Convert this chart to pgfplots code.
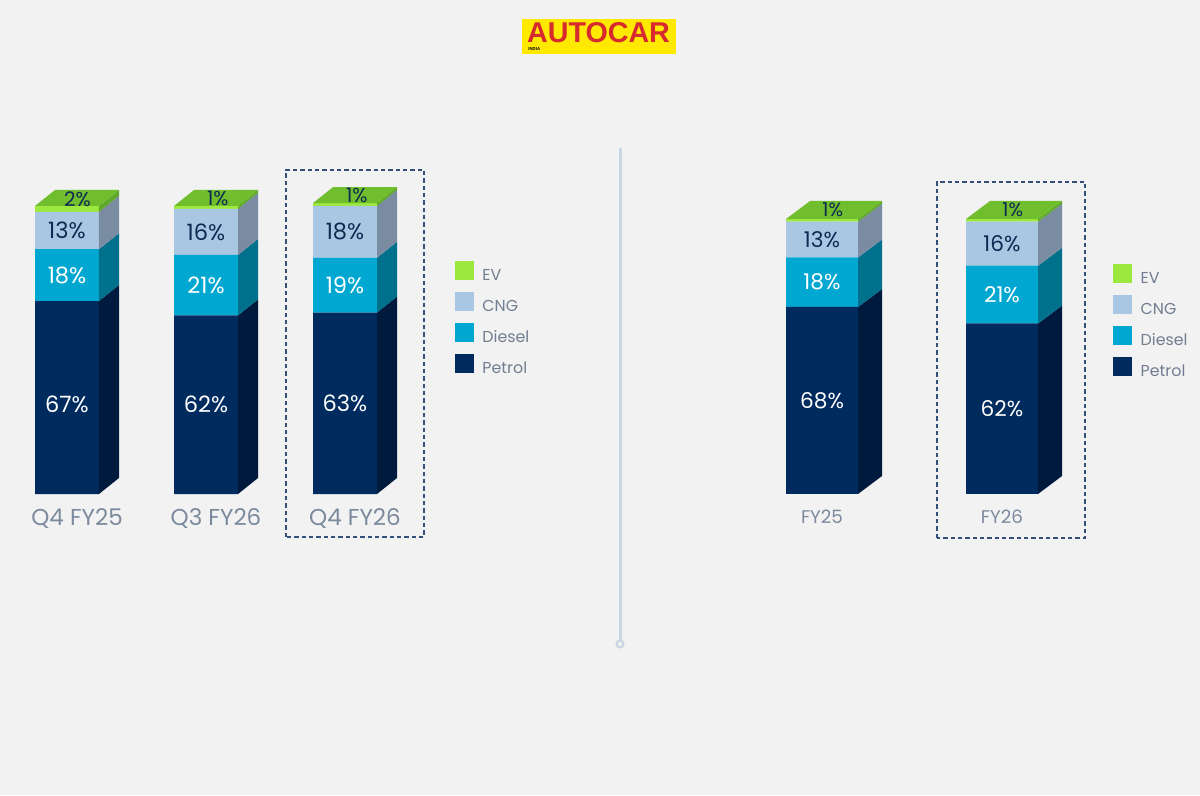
\documentclass[border=0pt]{standalone}
\usepackage{fontspec}
\setmainfont{Poppins}
\newfontfamily\logofont{Liberation Sans}
\usepackage{pgfplots}
\pgfplotsset{compat=1.18}

\definecolor{bg}{HTML}{F2F2F2}
\definecolor{petrol}{HTML}{002B5E}
\definecolor{petrolside}{HTML}{001A3D}
\definecolor{diesel}{HTML}{00A8D1}
\definecolor{dieselside}{HTML}{00718C}
\definecolor{cng}{HTML}{A9C7E3}
\definecolor{cngside}{HTML}{7A8CA1}
\definecolor{evc}{HTML}{9DE83E}
\definecolor{evside}{HTML}{5FA82A}
\definecolor{evtop}{HTML}{70BE2D}
\definecolor{navy}{HTML}{0E2A52}
\definecolor{lab}{HTML}{7C8A9E}
\definecolor{legtext}{HTML}{717D90}
\definecolor{divider}{HTML}{C9D5E2}
\definecolor{boxc}{HTML}{34507A}
\definecolor{logoy}{HTML}{FFE900}
\definecolor{logor}{HTML}{D62A2E}

% side face of one stacked segment: x centre, bottom, top, colour
\newcommand\sideface[4]{%
  \pgfmathsetmacro\xa{#1+\hw}%
  \pgfmathsetmacro\xb{#1+\hw+\dx}%
  \pgfmathsetmacro\ya{#2+\dy}%
  \pgfmathsetmacro\yb{#3+\dy}%
  \addplot[fill=#4, draw=none] coordinates {(\xa,#2) (\xb,\ya) (\xb,\yb) (\xa,#3)} --cycle;}
% top face: x centre, top value
\newcommand\topface[2]{%
  \pgfmathsetmacro\xa{#1-\hw}%
  \pgfmathsetmacro\xb{#1+\hw}%
  \pgfmathsetmacro\xc{#1+\hw+\dx}%
  \pgfmathsetmacro\xd{#1-\hw+\dx}%
  \pgfmathsetmacro\ya{#2+\dy}%
  \addplot[fill=evtop, draw=none] coordinates {(\xa,#2) (\xb,#2) (\xc,\ya) (\xd,\ya)} --cycle;}

\pgfplotsset{
  front/.style={
    anchor=south west, clip=false, enlargelimits=false, scale only axis,
    ybar stacked, ymin=0, ymax=110,
    axis x line*=bottom, axis y line=none, x axis line style={draw=none},
    ytick=\empty, xtick=data, major tick length=0pt,
    xticklabel style={text=lab, inner sep=0pt},
    reverse legend, legend cell align=left,
    legend image code/.code={\fill[##1] (0pt,-2.4pt) rectangle (11.4pt,9pt);},
    legend style={anchor=north west, draw=none, fill=none, inner sep=0pt,
      font=\fontsize{9.5}{11}\selectfont, text=legtext, row sep=5.3pt,
      nodes={inner sep=0pt},
      /tikz/every odd column/.append style={column sep=5pt}},
  },
  faces/.style={anchor=south west, clip=false, enlargelimits=false,
    scale only axis, hide axis, ymin=0, ymax=110},
  vlabel/.style={draw=none, nodes near coords, point meta=explicit symbolic,
    every node near coord/.append style={anchor=center, inner sep=0pt,
      font=\fontsize{#1}{15}\selectfont}},
}

\begin{document}
\begin{tikzpicture}
\begin{scope}[x=0.6pt, y=0.6pt]
\fill[bg] (0,0) rectangle (1200,795);

% logo
\fill[logoy] (522,741) rectangle (676,776);
\node[anchor=base, inner sep=0pt, text=logor, font=\logofont\bfseries\fontsize{17.2}{18}\selectfont] at (598.5,752) {AUTOCAR};
\node[anchor=base west, inner sep=0pt, font=\logofont\bfseries\fontsize{2.6}{3}\selectfont] at (528,744.5) {INDIA};

% divider
\draw[divider, line width=1.8pt] (620,647) -- (620,154);
\draw[divider, line width=1.2pt] (620,151) circle (3.5);

% highlight boxes
\draw[boxc, line width=0.8pt, dash pattern=on 2.6pt off 1.8pt] (286,258) rectangle (424,625);
\draw[boxc, line width=0.8pt, dash pattern=on 2.6pt off 1.8pt] (937,257) rectangle (1085,613);
\end{scope}

% ---------- quarterly panel ----------
\begin{axis}[front, at={(-1.5pt,180.6pt)}, width=250.2pt, height=190.08pt,
  xmin=-0.5, xmax=2.5, bar width=38.4pt,
  xticklabels={Q4 FY25, Q3 FY26, Q4 FY26},
  xticklabel style={font=\fontsize{13.8}{15}\selectfont, xshift=6pt, yshift=-8.4pt},
  legend style={at={(axis cs:2.79,80.9)}}]
\addplot[fill=petrol, draw=none] coordinates {(0,67) (1,62) (2,63)};
\addplot[fill=diesel, draw=none] coordinates {(0,18) (1,21) (2,19)};
\addplot[fill=cng, draw=none] coordinates {(0,13) (1,16) (2,18)};
\addplot[fill=evc, draw=none] coordinates {(0,2) (1,1) (2,1)};
\legend{Petrol, Diesel, CNG, EV}
\end{axis}

\def\hw{0.2302}\def\dx{0.1439}\def\dy{5.556}
\begin{axis}[faces, at={(-1.5pt,180.6pt)}, width=250.2pt, height=190.08pt, xmin=-0.5, xmax=2.5]
\sideface{0}{0}{67}{petrolside}\sideface{0}{67}{85}{dieselside}
\sideface{0}{85}{98}{cngside}\sideface{0}{98}{100}{evside}\topface{0}{100}
\sideface{1}{0}{62}{petrolside}\sideface{1}{62}{83}{dieselside}
\sideface{1}{83}{99}{cngside}\sideface{1}{99}{100}{evside}\topface{1}{100}
\sideface{2}{0}{63}{petrolside}\sideface{2}{63}{82}{dieselside}
\sideface{2}{82}{100}{cngside}\sideface{2}{100}{101}{evside}\topface{2}{101}
\addplot[vlabel=13.5, every node near coord/.append style={text=white}]
  coordinates {(0,31) [67\%] (1,31) [62\%] (2,31.5) [63\%]};
\addplot[vlabel=13.5, every node near coord/.append style={text=white}]
  coordinates {(0,76) [18\%] (1,72.5) [21\%] (2,72.5) [19\%]};
\addplot[vlabel=13.5, every node near coord/.append style={text=navy}]
  coordinates {(0,91.5) [13\%] (1,91) [16\%] (2,91) [18\%]};
\addplot[vlabel=12, every node near coord/.append style={text=navy}]
  coordinates {(0.075,102.5) [2\%] (1.085,102.6) [1\%] (2.085,103.6) [1\%]};
\end{axis}

% ---------- annual panel ----------
\begin{axis}[front, at={(439.2pt,180.6pt)}, width=216pt, height=181.5pt,
  xmin=-0.5, xmax=1.5, bar width=43.2pt,
  xticklabels={FY25, FY26},
  xticklabel style={font=\fontsize{11}{13}\selectfont, yshift=-9.4pt},
  legend style={at={(axis cs:1.617,83.6)}}]
\addplot[fill=petrol, draw=none] coordinates {(0,68) (1,62)};
\addplot[fill=diesel, draw=none] coordinates {(0,18) (1,21)};
\addplot[fill=cng, draw=none] coordinates {(0,13) (1,16)};
\addplot[fill=evc, draw=none] coordinates {(0,1) (1,1)};
\legend{Petrol, Diesel, CNG, EV}
\end{axis}

\def\hw{0.2}\def\dx{0.1333}\def\dy{6.545}
\begin{axis}[faces, at={(439.2pt,180.6pt)}, width=216pt, height=181.5pt, xmin=-0.5, xmax=1.5]
\sideface{0}{0}{68}{petrolside}\sideface{0}{68}{86}{dieselside}
\sideface{0}{86}{99}{cngside}\sideface{0}{99}{100}{evside}\topface{0}{100}
\sideface{1}{0}{62}{petrolside}\sideface{1}{62}{83}{dieselside}
\sideface{1}{83}{99}{cngside}\sideface{1}{99}{100}{evside}\topface{1}{100}
\addplot[vlabel=13, every node near coord/.append style={text=white}]
  coordinates {(0,34) [68\%] (1,31) [62\%]};
\addplot[vlabel=13, every node near coord/.append style={text=white}]
  coordinates {(0,77) [18\%] (1,72.5) [21\%]};
\addplot[vlabel=13, every node near coord/.append style={text=navy}]
  coordinates {(0,92.5) [13\%] (1,91) [16\%]};
\addplot[vlabel=11.5, every node near coord/.append style={text=navy}]
  coordinates {(0.06,103.3) [1\%] (1.06,103.3) [1\%]};
\end{axis}

\pgfresetboundingbox
\path[use as bounding box] (0pt,0pt) rectangle (720pt,477pt);
\end{tikzpicture}
\end{document}
